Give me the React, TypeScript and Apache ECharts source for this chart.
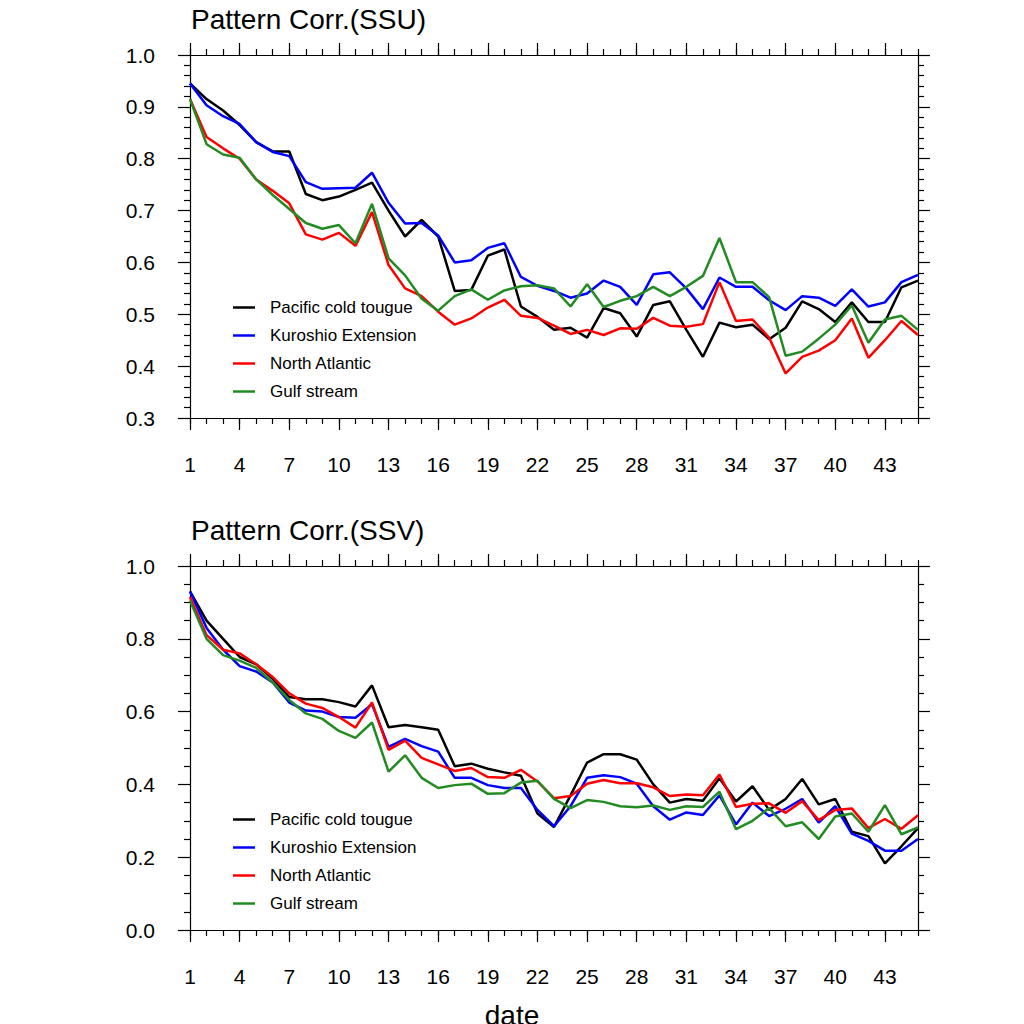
import { useEffect, useRef } from 'react';
import * as echarts from 'echarts';

const dates = Array.from({ length: 45 }, (_, i) => String(i + 1));
const names = ['Pacific cold tougue', 'Kuroshio Extension', 'North Atlantic', 'Gulf stream'];
const colors = ['#000000', '#0000ff', '#ff0000', '#228b22'];

// SSU
const ssuPacific = [0.945, 0.915, 0.893, 0.865, 0.832, 0.814, 0.814, 0.732, 0.72, 0.727, 0.74, 0.754, 0.70, 0.65, 0.682, 0.65, 0.545, 0.547, 0.613, 0.625, 0.515, 0.495, 0.47, 0.474, 0.455, 0.512, 0.502, 0.457, 0.518, 0.525, 0.47, 0.418, 0.484, 0.475, 0.48, 0.452, 0.474, 0.525, 0.51, 0.485, 0.523, 0.485, 0.485, 0.552, 0.565];
const ssuKuroshio = [0.945, 0.903, 0.882, 0.867, 0.832, 0.813, 0.805, 0.755, 0.742, 0.743, 0.744, 0.773, 0.715, 0.675, 0.676, 0.652, 0.60, 0.604, 0.628, 0.637, 0.572, 0.555, 0.545, 0.532, 0.54, 0.565, 0.553, 0.518, 0.577, 0.581, 0.55, 0.51, 0.571, 0.553, 0.553, 0.527, 0.508, 0.535, 0.532, 0.516, 0.548, 0.515, 0.523, 0.562, 0.576];
const ssuAtlantic = [0.915, 0.842, 0.82, 0.80, 0.76, 0.738, 0.714, 0.654, 0.644, 0.657, 0.632, 0.697, 0.595, 0.55, 0.535, 0.505, 0.48, 0.492, 0.513, 0.528, 0.497, 0.493, 0.478, 0.462, 0.47, 0.46, 0.473, 0.472, 0.493, 0.478, 0.476, 0.481, 0.562, 0.487, 0.49, 0.455, 0.386, 0.418, 0.43, 0.45, 0.492, 0.416, 0.45, 0.487, 0.46];
const ssuGulf = [0.915, 0.828, 0.808, 0.802, 0.76, 0.73, 0.703, 0.676, 0.665, 0.672, 0.637, 0.713, 0.608, 0.575, 0.53, 0.507, 0.535, 0.548, 0.528, 0.546, 0.554, 0.556, 0.55, 0.515, 0.558, 0.514, 0.526, 0.535, 0.553, 0.535, 0.553, 0.574, 0.647, 0.562, 0.562, 0.533, 0.42, 0.428, 0.453, 0.48, 0.517, 0.445, 0.49, 0.497, 0.47];

// SSV
const ssvPacific = [0.93, 0.85, 0.80, 0.75, 0.73, 0.69, 0.64, 0.634, 0.634, 0.626, 0.614, 0.672, 0.557, 0.563, 0.557, 0.55, 0.45, 0.457, 0.443, 0.433, 0.424, 0.32, 0.283, 0.37, 0.46, 0.483, 0.483, 0.468, 0.40, 0.35, 0.36, 0.355, 0.417, 0.353, 0.395, 0.33, 0.36, 0.415, 0.345, 0.36, 0.27, 0.258, 0.183, 0.23, 0.28];
const ssvKuroshio = [0.93, 0.83, 0.77, 0.725, 0.71, 0.68, 0.625, 0.603, 0.60, 0.585, 0.583, 0.62, 0.503, 0.525, 0.505, 0.49, 0.418, 0.418, 0.398, 0.39, 0.39, 0.33, 0.285, 0.34, 0.418, 0.425, 0.42, 0.402, 0.34, 0.303, 0.323, 0.316, 0.37, 0.29, 0.35, 0.313, 0.333, 0.36, 0.295, 0.34, 0.265, 0.245, 0.218, 0.218, 0.25];
const ssvAtlantic = [0.915, 0.81, 0.77, 0.76, 0.73, 0.695, 0.65, 0.622, 0.61, 0.585, 0.556, 0.625, 0.495, 0.52, 0.473, 0.455, 0.437, 0.445, 0.42, 0.418, 0.44, 0.408, 0.362, 0.368, 0.402, 0.412, 0.403, 0.403, 0.392, 0.368, 0.372, 0.37, 0.427, 0.338, 0.347, 0.348, 0.322, 0.354, 0.302, 0.33, 0.334, 0.28, 0.305, 0.278, 0.315];
const ssvGulf = [0.905, 0.80, 0.755, 0.74, 0.72, 0.68, 0.632, 0.595, 0.58, 0.547, 0.528, 0.57, 0.435, 0.48, 0.418, 0.39, 0.398, 0.402, 0.374, 0.376, 0.405, 0.41, 0.36, 0.335, 0.357, 0.352, 0.34, 0.337, 0.342, 0.33, 0.34, 0.338, 0.38, 0.277, 0.30, 0.335, 0.285, 0.296, 0.25, 0.312, 0.32, 0.27, 0.343, 0.263, 0.282];

const FONT = 'Liberation Sans, Arial, sans-serif';
const lineStyle = { color: '#000', width: 1.2 };

function xAxes(grid: number) {
  const base = {
    type: 'category', data: dates, boundaryGap: false, gridIndex: grid,
    axisLine: { lineStyle }, splitLine: { show: false },
  };
  return [
    { ...base, position: 'bottom', axisTick: { interval: 2, length: 12, lineStyle },
      axisLabel: { interval: 2, color: '#000', fontSize: 21, fontFamily: FONT, margin: 36 } },
    { ...base, position: 'bottom', axisTick: { interval: 0, length: 6, lineStyle }, axisLabel: { show: false } },
    { ...base, position: 'top', axisTick: { interval: 2, length: 12, lineStyle }, axisLabel: { show: false } },
    { ...base, position: 'top', axisTick: { interval: 0, length: 6, lineStyle }, axisLabel: { show: false } },
  ];
}

function yAxes(grid: number, min: number, max: number, interval: number, minor: number, digits: number) {
  const base = {
    type: 'value', gridIndex: grid, min, max, interval,
    axisLine: { show: true, lineStyle }, splitLine: { show: false },
    axisTick: { show: true, length: 12, lineStyle },
    minorTick: { show: true, splitNumber: minor, length: 6, lineStyle },
  };
  return [
    { ...base, position: 'left',
      axisLabel: { color: '#000', fontSize: 21, fontFamily: FONT, margin: 35, formatter: (v: number) => v.toFixed(digits) } },
    { ...base, position: 'right', axisLabel: { show: false } },
  ];
}

function makeSeries(grid: number, data: number[][]) {
  return data.map((d, i) => ({
    name: names[i], type: 'line', xAxisIndex: grid * 4, yAxisIndex: grid * 2,
    data: d, symbol: 'none', lineStyle: { width: 2.5, color: colors[i] }, itemStyle: { color: colors[i] },
  }));
}

function legend(top: number) {
  return {
    data: names, orient: 'vertical', left: 228, top, itemWidth: 22, itemHeight: 2.5, itemGap: 11,
    icon: 'rect', textStyle: { fontSize: 17, fontFamily: FONT, color: '#000', padding: [0, 0, 0, 10] },
    selectedMode: false,
  };
}

export default function App() {
  const ref = useRef<HTMLDivElement>(null);

  useEffect(() => {
    if (!ref.current) return;
    const chart = echarts.init(ref.current, null, { renderer: 'svg' });
    chart.setOption({
      animation: false,
      backgroundColor: '#fff',
      title: [
        { text: 'Pattern Corr.(SSU)', left: 186, top: 0, textStyle: { fontSize: 28, fontWeight: 'normal', fontFamily: FONT, color: '#000' } },
        { text: 'Pattern Corr.(SSV)', left: 186, top: 511, textStyle: { fontSize: 28, fontWeight: 'normal', fontFamily: FONT, color: '#000' } },
        { text: 'date', left: 'center', top: 996, textStyle: { fontSize: 28, fontWeight: 'normal', fontFamily: FONT, color: '#000' } },
      ],
      legend: [legend(294), legend(806)],
      grid: [
        { left: 190, top: 55, width: 728, height: 363 },
        { left: 190, top: 566, width: 728, height: 364 },
      ],
      xAxis: [...xAxes(0), ...xAxes(1)],
      yAxis: [...yAxes(0, 0.3, 1.0, 0.1, 5, 1), ...yAxes(1, 0, 1.0, 0.2, 4, 1)],
      series: [
        ...makeSeries(0, [ssuPacific, ssuKuroshio, ssuAtlantic, ssuGulf]),
        ...makeSeries(1, [ssvPacific, ssvKuroshio, ssvAtlantic, ssvGulf]),
      ],
    });
    return () => chart.dispose();
  }, []);

  return <div ref={ref} style={{ position: 'absolute', left: 0, top: 0, width: 1024, height: 1024 }} />;
}
